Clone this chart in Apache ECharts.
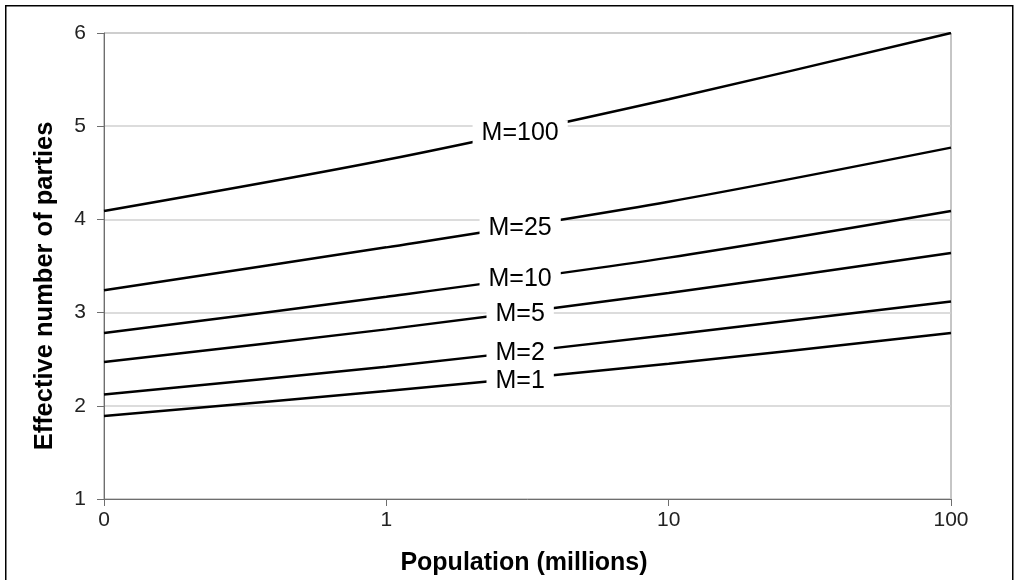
<!DOCTYPE html>
<html>
<head>
<meta charset="utf-8">
<script src="https://cdn.jsdelivr.net/npm/echarts@6/dist/echarts.min.js"></script>
<style>
html,body{margin:0;padding:0;background:#fff;}
#c{width:1015px;height:580px;}
</style>
</head>
<body>
<div id="c"></div>
<script>
// x positions are decades of population (log scale index)
var xTickLabels = ['0', '1', '10', '100'];
var xIndex = [0, 1, 2, 3];
var seriesNames = ['M=100', 'M=25', 'M=10', 'M=5', 'M=2', 'M=1'];
var m100 = [4.09, 4.64, 5.29, 6.00];
var m25  = [3.24, 3.70, 4.19, 4.77];
var m10  = [2.78, 3.17, 3.59, 4.09];
var m5   = [2.47, 2.82, 3.21, 3.64];
var m2   = [2.12, 2.42, 2.76, 3.12];
var m1   = [1.89, 2.16, 2.45, 2.78];
var labelX = 1.474;
var labelY = [4.93, 3.91, 3.36, 2.98, 2.56, 2.27];
var yTicks = [1, 2, 3, 4, 5, 6];

var allValues = [m100, m25, m10, m5, m2, m1];
var FONT = '"Liberation Sans", Arial, sans-serif';

var series = allValues.map(function (vals, i) {
  return {
    name: seriesNames[i],
    type: 'line',
    data: xIndex.map(function (x, j) { return [x, vals[j]]; }),
    smooth: 0.3,
    symbol: 'none',
    lineStyle: { color: '#000', width: 2.5 },
    silent: true,
    markPoint: {
      symbol: 'rect',
      symbolSize: 0,
      silent: true,
      data: [{ coord: [labelX, labelY[i]] }],
      label: {
        show: true,
        position: 'inside',
        formatter: seriesNames[i],
        color: '#000',
        fontSize: 25,
        fontFamily: FONT,
        backgroundColor: '#fff',
        padding: [1, 9, 0, 9],
        lineHeight: 24
      }
    }
  };
});

var chart = echarts.init(document.getElementById('c'), null, { renderer: 'canvas' });
chart.setOption({
  animation: false,
  backgroundColor: '#fff',
  grid: {
    left: 104, right: 64, top: 33, bottom: 81,
    show: true, borderColor: '#8c8c8c', borderWidth: 1, backgroundColor: 'transparent'
  },
  xAxis: {
    type: 'value',
    min: 0, max: 3, interval: 1,
    axisLine: { show: true, lineStyle: { color: '#6e6e6e', width: 1 } },
    axisTick: { show: true, length: 7, inside: false, lineStyle: { color: '#6e6e6e' } },
    splitLine: { show: false },
    axisLabel: {
      margin: 11, fontSize: 21, fontFamily: FONT, color: '#222',
      formatter: function (v) { return xTickLabels[Math.round(v)]; }
    }
  },
  yAxis: {
    type: 'value',
    min: yTicks[0], max: yTicks[yTicks.length - 1], interval: 1,
    axisLine: { show: true, lineStyle: { color: '#6e6e6e', width: 1 } },
    axisTick: { show: true, length: 7, lineStyle: { color: '#6e6e6e' } },
    splitLine: { show: true, lineStyle: { color: '#d0d0d0', width: 1.5 } },
    axisLabel: { margin: 18, fontSize: 21, fontFamily: FONT, color: '#222' }
  },
  graphic: [
    {
      type: 'rect', left: 5, top: 5, z: -1, silent: true,
      shape: { width: 1007, height: 620 },
      style: { fill: 'transparent', stroke: '#000', lineWidth: 1.5 }
    },
    {
      type: 'text', x: 524, y: 563, silent: true,
      style: {
        text: 'Population (millions)', fontSize: 25, fontWeight: 'bold',
        fontFamily: FONT, fill: '#000', align: 'center', verticalAlign: 'middle'
      }
    },
    {
      type: 'text', x: 45, y: 286, rotation: Math.PI / 2, silent: true,
      style: {
        text: 'Effective number of parties', fontSize: 25.5, fontWeight: 'bold',
        fontFamily: FONT, fill: '#000', align: 'center', verticalAlign: 'middle'
      }
    }
  ],
  series: series
});
</script>
</body>
</html>
